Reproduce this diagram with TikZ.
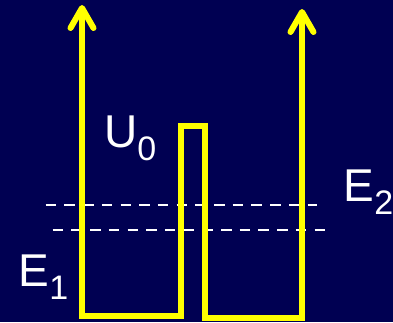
\documentclass[tikz,border=0pt]{standalone}
\usepackage{fontspec}
\setmainfont{Liberation Sans}
\definecolor{bgnavy}{RGB}{0,0,82}
\definecolor{wellyellow}{RGB}{255,255,0}
\newcommand\lowsub[1]{\raisebox{-13pt}{\fontsize{34}{34}\selectfont #1}}
\begin{document}
\begin{tikzpicture}[x=1pt,y=-1pt,
  well/.style={draw=wellyellow,line width=6pt,line join=miter,line cap=butt},
  barb/.style={draw=wellyellow,line width=6pt,line join=round,line cap=round},
  level/.style={draw=white,line width=2.8pt,dash pattern=on 10.5pt off 8.2pt},
  lab/.style={text=white,font=\fontsize{46}{46}\selectfont,inner sep=0pt,anchor=base west},
]
\fill[bgnavy] (0,0) rectangle (393,322);
\useasboundingbox (0,0) rectangle (393,322);
% energy levels
\coordinate (d1a) at (45.7,205);
\coordinate (d1b) at (317,205);
\coordinate (d2a) at (52.7,230);
\coordinate (d2b) at (325,230);
\draw[level] (d1a) -- (d1b);
\draw[level] (d2a) -- (d2b);
% potential profile
\coordinate (ltip) at (82,8);
\coordinate (lbot) at (82,316);
\coordinate (b1) at (181,316);
\coordinate (b2) at (181,126);
\coordinate (b3) at (204.5,126);
\coordinate (b4) at (204.5,317.5);
\coordinate (rbot) at (302,317.5);
\coordinate (rtip) at (302,12);
\draw[well] (ltip) -- (lbot) -- (b1) -- (b2) -- (b3) -- (b4) -- (rbot) -- (rtip);
\draw[barb] (70.5,28) -- (ltip) -- (93.5,28);
\draw[barb] (290.5,32) -- (rtip) -- (313.5,32);
% labels
\node[lab] (u0) at (104,147.5) {U\lowsub{0}};
\node[lab] (e2) at (343.5,201.5) {E\lowsub{2}};
\node[lab] (e1) at (18.5,286.5) {E\lowsub{1}};
\end{tikzpicture}
\end{document}
